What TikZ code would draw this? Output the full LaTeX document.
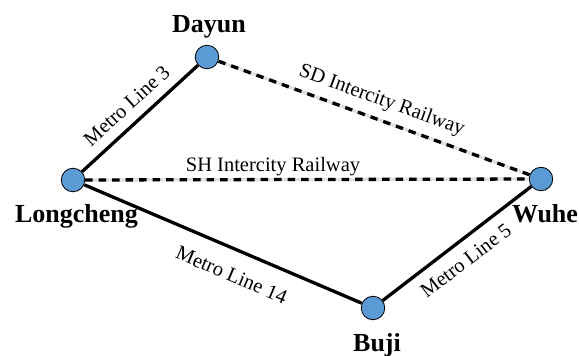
\documentclass[tikz,border=0pt]{standalone}
\usepackage{fontspec}
\setmainfont{Liberation Serif}
\definecolor{stblue}{HTML}{5B9BD5}
\begin{document}
\begin{tikzpicture}[x=1pt,y=-1pt,
  station/.style={circle, draw=black, line width=0.8pt, fill=stblue, minimum size=23.5pt, inner sep=0pt},
  stname/.style={font=\bfseries\fontsize{26}{30}\selectfont, anchor=base, inner sep=0pt},
  elabel/.style={font=\fontsize{20.5}{24}\selectfont, inner sep=0pt},
  metro/.style={line width=3.3pt, black},
  rail/.style={line width=3.3pt, black, dash pattern=on 7.5pt off 6pt},
  railbg/.style={line width=3.3pt, black!12}]
\useasboundingbox (0,0) rectangle (579,356);

\node[station] (D) at (207,57) {};
\node[station] (L) at (73,180) {};
\node[station] (W) at (541,179) {};
\node[station] (B) at (373,308) {};

\draw[metro] (L) -- (D);
\draw[metro] (L) -- (B);
\draw[metro] (B) -- (W);
\draw[railbg] (D) -- (W);
\draw[rail] (D) -- (W);
\draw[railbg] (L) -- (W);
\draw[rail] (L) -- (W);

\node[stname] (tD) at (209,32) {Dayun};
\node[stname] (tL) at (76.5,222) {Longcheng};
\node[stname] (tW) at (545,222) {Wuhe};
\node[stname] (tB) at (377,351) {Buji};

\node[elabel, rotate=42.3] (m3) at (126.7,105.7) {Metro Line 3};
\node[elabel, rotate=-19.9] (sd) at (381.7,100.7) {SD Intercity Railway};
\node[elabel] (sh) at (273,166.7) {SH Intercity Railway};
\node[elabel, rotate=-23.1] (m14) at (231.7,275) {Metro Line 14};
\node[elabel, rotate=37.5] (m5) at (465.7,260.7) {Metro Line 5};
\end{tikzpicture}
\end{document}
